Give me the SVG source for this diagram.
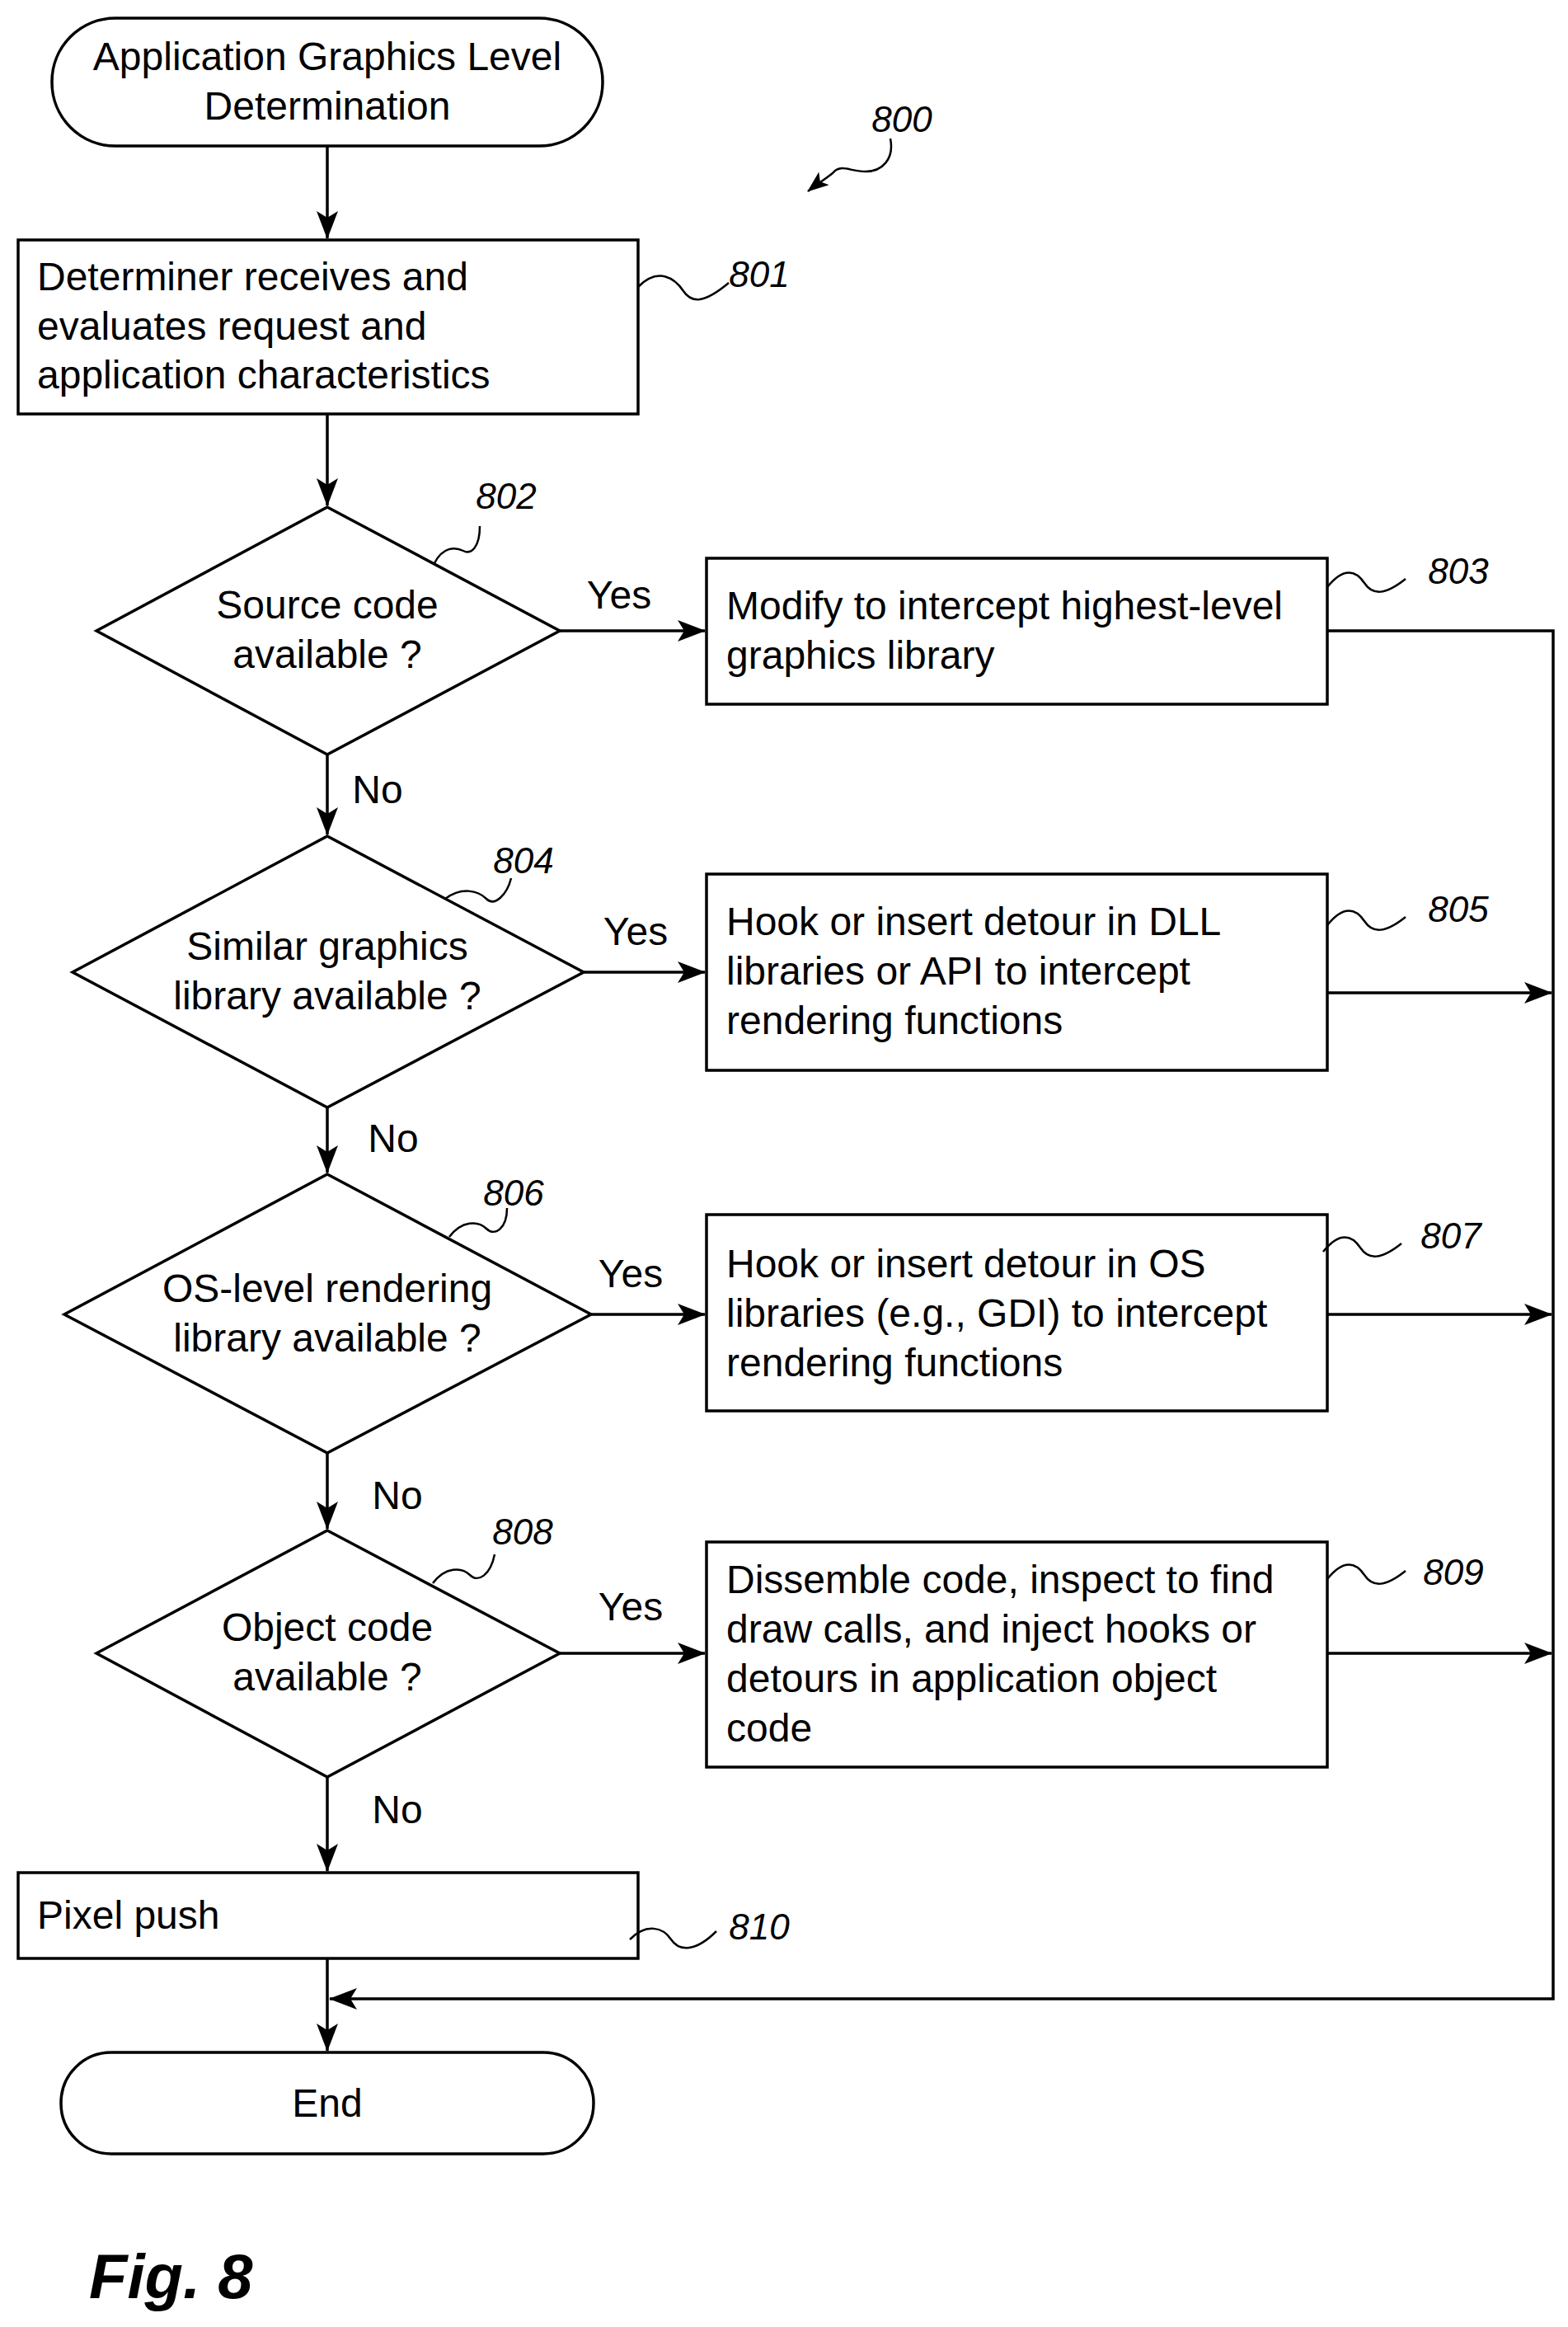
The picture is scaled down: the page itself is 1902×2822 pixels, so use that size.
<svg xmlns="http://www.w3.org/2000/svg" width="1902" height="2822" viewBox="0 0 1902 2822">
<style>
.s{fill:#fff;stroke:#000;stroke-width:3.5}
.c{fill:none;stroke:#000;stroke-width:3.5}
.l{fill:none;stroke:#000;stroke-width:2.5}
text{font-family:"Liberation Sans",Arial,sans-serif;font-size:48px;fill:#000}
.m{text-anchor:middle}
.r{font-style:italic;font-size:44px}
</style>
<defs>
<marker id="a" markerWidth="34" markerHeight="26" refX="33" refY="13" orient="auto" markerUnits="userSpaceOnUse" viewBox="0 0 34 26"><path d="M0,0L34,13L0,26L8,13Z" fill="#000"/></marker>
<marker id="b" markerWidth="26" markerHeight="20" refX="25" refY="10" orient="auto" markerUnits="userSpaceOnUse" viewBox="0 0 26 20"><path d="M0,0L26,10L0,20L6,10Z" fill="#000"/></marker>
</defs>
<rect width="1902" height="2822" fill="#fff"/>
<g id="connectors">
<line class="c" x1="397" y1="177" x2="397" y2="289" marker-end="url(#a)"/>
<line class="c" x1="397" y1="502" x2="397" y2="613" marker-end="url(#a)"/>
<line class="c" x1="397" y1="915" x2="397" y2="1012" marker-end="url(#a)"/>
<line class="c" x1="397" y1="1343" x2="397" y2="1422" marker-end="url(#a)"/>
<line class="c" x1="397" y1="1762" x2="397" y2="1854" marker-end="url(#a)"/>
<line class="c" x1="397" y1="2155" x2="397" y2="2269" marker-end="url(#a)"/>
<line class="c" x1="397" y1="2375" x2="397" y2="2487" marker-end="url(#a)"/>
<line class="c" x1="679" y1="765" x2="855" y2="765" marker-end="url(#a)"/>
<line class="c" x1="708" y1="1179" x2="855" y2="1179" marker-end="url(#a)"/>
<line class="c" x1="717" y1="1594" x2="855" y2="1594" marker-end="url(#a)"/>
<line class="c" x1="679" y1="2005" x2="855" y2="2005" marker-end="url(#a)"/>
<path class="c" d="M1610,765H1884V2424H400" marker-end="url(#a)"/>
<line class="c" x1="1610" y1="1204" x2="1882" y2="1204" marker-end="url(#a)"/>
<line class="c" x1="1610" y1="1594" x2="1882" y2="1594" marker-end="url(#a)"/>
<line class="c" x1="1610" y1="2005" x2="1882" y2="2005" marker-end="url(#a)"/>
<text x="751" y="738" class="m">Yes</text>
<text x="771" y="1146" class="m">Yes</text>
<text x="765" y="1561" class="m">Yes</text>
<text x="765" y="1965" class="m">Yes</text>
<text x="458" y="974" class="m">No</text>
<text x="477" y="1397" class="m">No</text>
<text x="482" y="1830" class="m">No</text>
<text x="482" y="2211" class="m">No</text>
</g>
<g id="n800"><path class="l" d="M1080,168c5,25 -10,40 -30,40s-30,-10 -40,2c-10,8 -20,14 -30,22" marker-end="url(#b)"/><text x="1094" y="160" class="r m">800</text></g>
<g id="start"><rect class="s" x="63" y="22" width="668" height="155" rx="77"/><text x="397" y="85" class="m">Application Graphics Level</text><text x="397" y="145" class="m">Determination</text></g>
<g id="n801"><rect class="s" x="22" y="291" width="752" height="211"/><text x="45" y="352">Determiner receives and</text><text x="45" y="412">evaluates request and</text><text x="45" y="471">application characteristics</text><path class="l" d="M774,348c25,-25 45,-10 55,5s25,15 55,-10"/><text x="921" y="348" class="r m">801</text></g>
<g id="n802"><polygon class="s" points="397,615 679,765 397,915 117,765"/><text x="397" y="750" class="m">Source code</text><text x="397" y="810" class="m">available ?</text><path class="l" d="M527,683c10,-20 25,-20 35,-15s20,-5 20,-30"/><text x="614" y="617" class="r m">802</text></g>
<g id="n803"><rect class="s" x="857" y="677" width="753" height="177"/><text x="881" y="751">Modify to intercept highest-level</text><text x="881" y="811">graphics library</text><path class="l" d="M1610,712c20,-25 35,-20 45,-5s25,15 50,-5"/><text x="1769" y="708" class="r m">803</text></g>
<g id="n804"><polygon class="s" points="397,1014 708,1179 397,1343 88,1179"/><text x="397" y="1164" class="m">Similar graphics</text><text x="397" y="1224" class="m">library available ?</text><path class="l" d="M540,1090c20,-15 40,-10 50,0s25,-5 30,-25"/><text x="635" y="1059" class="r m">804</text></g>
<g id="n805"><rect class="s" x="857" y="1060" width="753" height="238"/><text x="881" y="1134">Hook or insert detour in DLL</text><text x="881" y="1194">libraries or API to intercept</text><text x="881" y="1254">rendering functions</text><path class="l" d="M1610,1122c20,-25 35,-20 45,-5s25,15 50,-5"/><text x="1769" y="1118" class="r m">805</text></g>
<g id="n806"><polygon class="s" points="397,1424 717,1594 397,1762 78,1594"/><text x="397" y="1579" class="m">OS-level rendering</text><text x="397" y="1639" class="m">library available ?</text><path class="l" d="M545,1500c15,-20 35,-20 45,-10s25,0 25,-25"/><text x="623" y="1462" class="r m">806</text></g>
<g id="n807"><rect class="s" x="857" y="1473" width="753" height="238"/><text x="881" y="1549">Hook or insert detour in OS</text><text x="881" y="1609">libraries (e.g., GDI) to intercept</text><text x="881" y="1669">rendering functions</text><path class="l" d="M1605,1518c20,-25 35,-20 45,-5s25,15 50,-5"/><text x="1760" y="1514" class="r m">807</text></g>
<g id="n808"><polygon class="s" points="397,1856 679,2005 397,2155 117,2005"/><text x="397" y="1990" class="m">Object code</text><text x="397" y="2050" class="m">available ?</text><path class="l" d="M525,1920c15,-20 35,-20 45,-10s25,0 30,-25"/><text x="634" y="1873" class="r m">808</text></g>
<g id="n809"><rect class="s" x="857" y="1870" width="753" height="273"/><text x="881" y="1932">Dissemble code, inspect to find</text><text x="881" y="1992">draw calls, and inject hooks or</text><text x="881" y="2052">detours in application object</text><text x="881" y="2112">code</text><path class="l" d="M1610,1915c20,-25 35,-20 45,-5s25,15 50,-5"/><text x="1763" y="1922" class="r m">809</text></g>
<g id="n810"><rect class="s" x="22" y="2271" width="752" height="104"/><text x="45" y="2339">Pixel push</text><path class="l" d="M764,2352c20,-20 40,-15 50,0s30,15 55,-10"/><text x="921" y="2352" class="r m">810</text></g>
<g id="end"><rect class="s" x="74" y="2489" width="646" height="123" rx="61"/><text x="397" y="2567" class="m">End</text></g>
<text x="108" y="2787" style="font-size:76px;font-weight:bold;font-style:italic">Fig. 8</text>
</svg>
